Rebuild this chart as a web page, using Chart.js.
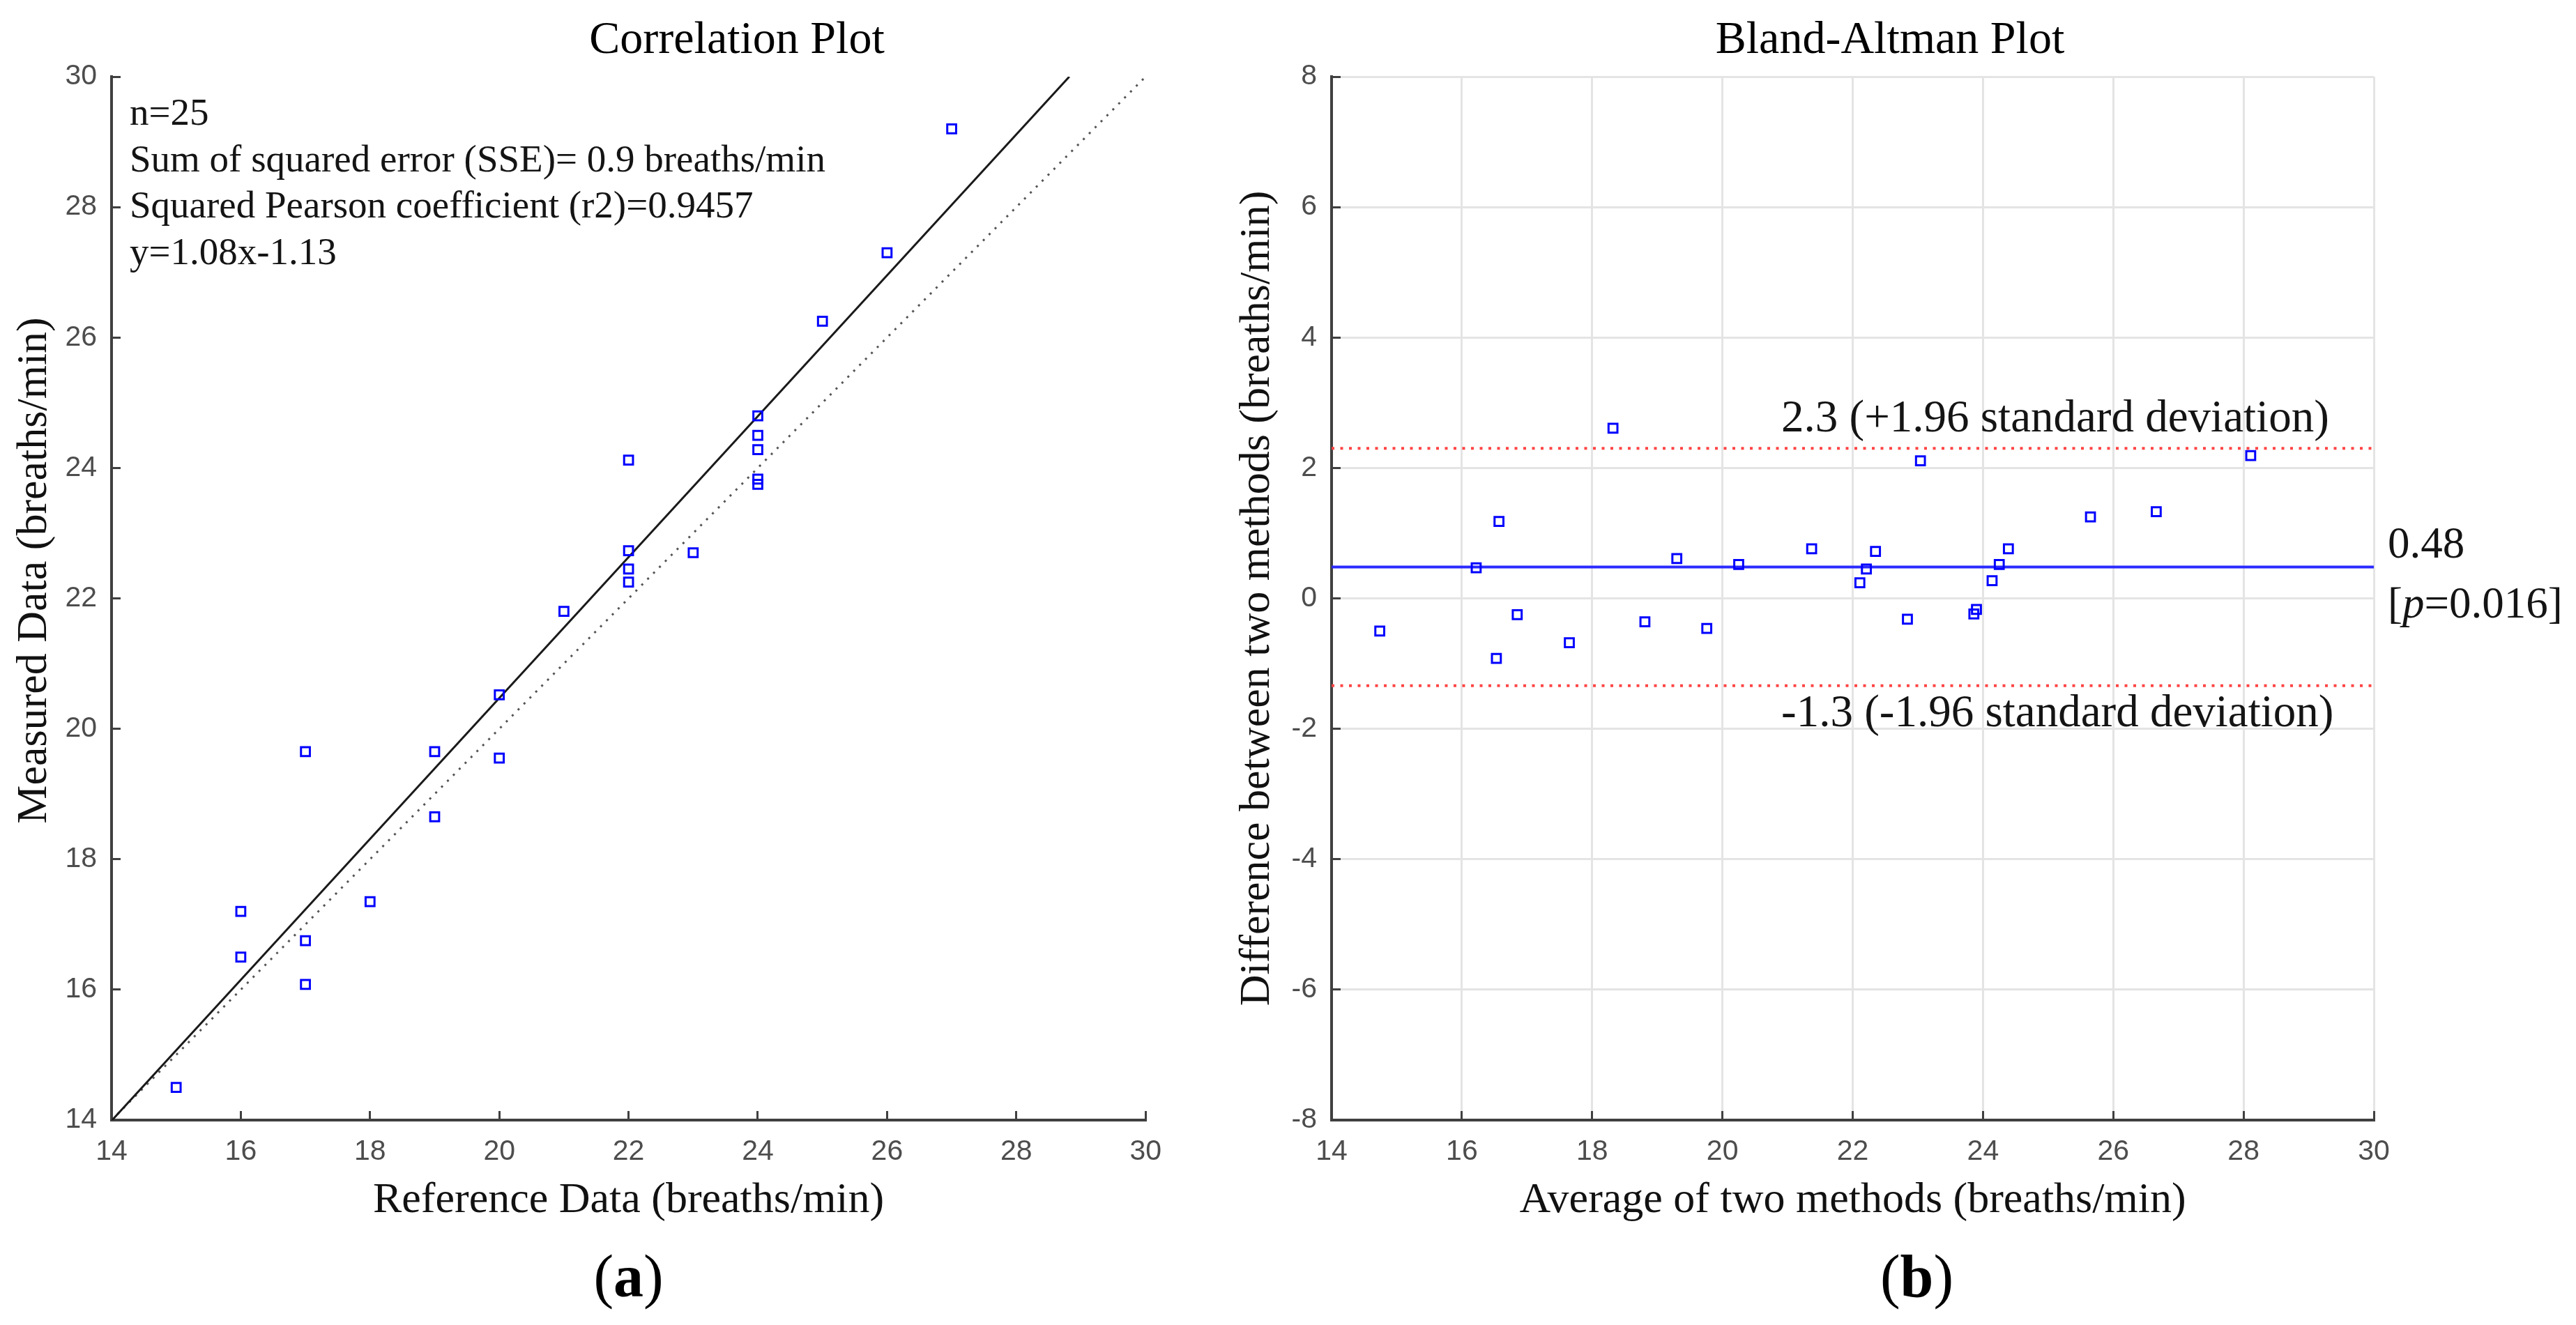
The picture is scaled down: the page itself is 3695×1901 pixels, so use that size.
<!DOCTYPE html>
<html><head><meta charset="utf-8">
<script src="https://cdn.jsdelivr.net/npm/chart.js@4.4.1/dist/chart.umd.min.js"></script>
<style>
html,body{margin:0;padding:0;background:#fff;width:3695px;height:1901px;overflow:hidden;}
canvas{position:absolute;top:0;}
#c1{left:0;} #c2{left:1700px;}
</style></head><body>
<canvas id="c1" width="1700" height="1901"></canvas>
<canvas id="c2" width="1995" height="1901"></canvas>
<script>
// ---------- data ----------
const refData  = [15, 16, 16, 17, 17, 17, 18, 19, 19, 20, 20, 21, 22, 22, 22, 22, 23, 24, 24, 24, 24, 24, 25, 26, 27];
const measData = [14.5, 17.2, 16.5, 19.65, 16.75, 16.08, 17.35, 19.65, 18.65, 20.52, 19.55, 21.8, 24.12, 22.73, 22.45, 22.25, 22.7, 24.8, 24.5, 24.28, 23.83, 23.75, 26.25, 27.3, 29.2];
const fitLineX = [14, 28.82];
const fitLineY = [13.99, 30];
const identityX = [14, 30];
const identityY = [14, 30];

const avgData  = [14.74, 16.22, 16.57, 16.53, 16.85, 17.65, 18.32, 18.81, 19.30, 19.76, 20.25, 21.37, 22.11, 22.21, 22.35, 22.84, 23.04, 23.86, 23.90, 24.14, 24.25, 24.39, 25.65, 26.66, 28.11];
const diffData = [-0.50, 0.47, 1.18, -0.92, -0.25, -0.68, 2.61, -0.36, 0.61, -0.46, 0.52, 0.76, 0.24, 0.45, 0.72, -0.32, 2.11, -0.24, -0.17, 0.27, 0.52, 0.76, 1.25, 1.33, 2.19];
const meanDiff = 0.48;
const upperLoA = 2.3;
const lowerLoA = -1.34;
const baRangeX = [14, 30];

const corrTicks = [14, 16, 18, 20, 22, 24, 26, 28, 30];
const baTicksX  = [14, 16, 18, 20, 22, 24, 26, 28, 30];
const baTicksY  = [-8, -6, -4, -2, 0, 2, 4, 6, 8];

const corrTitle = 'Correlation Plot';
const baTitle = 'Bland-Altman Plot';
const corrYTitle = 'Measured Data (breaths/min)';
const corrNotes = ['n=25', 'Sum of squared error (SSE)= 0.9 breaths/min', 'Squared Pearson coefficient (r2)=0.9457', 'y=1.08x-1.13'];
const upperLabel = '2.3 (+1.96 standard deviation)';
const lowerLabel = '-1.3 (-1.96 standard deviation)';
const meanLabel = '0.48';
const pLabel = ['[', 'p', '=0.016]'];

// ---------- helpers ----------
const SERIF = '"Liberation Serif", "Times New Roman", serif';
const SANS = '"Liberation Sans", Arial, sans-serif';
const pts = (xs, ys) => xs.map((x, i) => ({x: x, y: ys[i]}));
function f(size, w) { return (w || '') + ' ' + size + 'px ' + SERIF; }
function panelLabel(ctx, letter, cx, base) {
  const parts = [['(', f(86)], [letter, f(86, 'bold')], [')', f(86)]];
  let total = 0;
  parts.forEach(p => { ctx.font = p[1]; total += ctx.measureText(p[0]).width; });
  let x = cx - total / 2;
  ctx.textAlign = 'left';
  parts.forEach(p => { ctx.font = p[1]; ctx.fillText(p[0], x, base); x += ctx.measureText(p[0]).width; });
}
function linScale(ticks, titleText, titlePad, extra) {
  return Object.assign({
    type: 'linear',
    min: ticks[0], max: ticks[ticks.length - 1],
    ticks: {stepSize: ticks[1] - ticks[0], font: {family: SANS, size: 41}, color: '#4d4d4d', padding: 34},
    border: {display: true, color: '#404040', width: 4},
    title: {display: !!titleText, text: titleText, font: {family: SERIF, size: 62}, color: '#111', padding: titlePad}
  }, extra);
}

// ---------- correlation chart ----------
const corrText = {
  id: 'corrText',
  afterDraw(chart) {
    const {ctx, chartArea: a} = chart;
    ctx.save();
    ctx.fillStyle = '#000';
    ctx.textBaseline = 'alphabetic';
    ctx.font = f(66); ctx.textAlign = 'center';
    ctx.fillText(corrTitle, a.left + 897, 76);
    ctx.fillStyle = '#141414';
    ctx.font = f(55); ctx.textAlign = 'left';
    corrNotes.forEach((t, i) => ctx.fillText(t, a.left + 26, a.top + 69 + i * 66.5));
    // y-axis title (placed slightly above the plot centre, as in the source)
    ctx.save();
    ctx.fillStyle = '#111';
    ctx.translate(a.left - 110, (a.top + a.bottom) / 2 - 40);
    ctx.rotate(-Math.PI / 2);
    ctx.font = f(62); ctx.textAlign = 'center'; ctx.textBaseline = 'middle';
    ctx.fillText(corrYTitle, 0, 0);
    ctx.restore();
    ctx.fillStyle = '#000';
    ctx.textBaseline = 'alphabetic';
    panelLabel(ctx, 'a', (a.left + a.right) / 2, 1860);
    ctx.restore();
  }
};

new Chart(document.getElementById('c1'), {
  type: 'scatter',
  data: {
    datasets: [
      {label: 'Measured', data: pts(refData, measData), pointStyle: 'rect', pointRadius: 9, pointBorderWidth: 3,
       borderColor: '#0000ff', backgroundColor: 'rgba(0,0,0,0)'},
      {label: 'Fit', type: 'line', data: pts(fitLineX, fitLineY), borderColor: '#1a1a1a', borderWidth: 3, pointRadius: 0, fill: false},
      {label: 'Identity', type: 'line', data: pts(identityX, identityY), borderColor: '#555', borderWidth: 3, borderDash: [3, 9], pointRadius: 0, fill: false}
    ]
  },
  options: {
    responsive: false, animation: false, devicePixelRatio: 1,
    layout: {padding: {left: 0, right: 45, top: 110, bottom: 94}, autoPadding: false},
    plugins: {legend: {display: false}, tooltip: {enabled: false}, title: {display: false}},
    scales: {
      x: linScale(corrTicks, 'Reference Data (breaths/min)', {top: 0, bottom: 47}, {
        position: 'bottom',
        grid: {drawOnChartArea: false, tickLength: -13, tickColor: '#404040', tickWidth: 3},
        afterFit: s => { s.height = 200; }
      }),
      y: linScale(corrTicks, '', {top: 13, bottom: 0}, {
        position: 'left',
        grid: {drawOnChartArea: false, tickLength: -13, tickColor: '#404040', tickWidth: 3},
        afterFit: s => { s.width = 160; }
      })
    }
  },
  plugins: [corrText]
});

// ---------- Bland-Altman chart ----------
const baText = {
  id: 'baText',
  afterDraw(chart) {
    const {ctx, chartArea: a, scales} = chart;
    const y = scales.y;
    ctx.save();
    ctx.fillStyle = '#000';
    ctx.textBaseline = 'alphabetic';
    ctx.font = f(66); ctx.textAlign = 'center';
    ctx.fillText(baTitle, a.left + 801, 76);
    ctx.fillStyle = '#141414';
    ctx.font = f(65); ctx.textAlign = 'left';
    ctx.fillText(upperLabel, a.left + 645, y.getPixelForValue(upperLoA) - 24);
    ctx.fillText(lowerLabel, a.left + 645, y.getPixelForValue(lowerLoA) + 58);
    const mx = a.right + 20;
    const my = y.getPixelForValue(meanDiff);
    ctx.font = f(63);
    ctx.fillText(meanLabel, mx, my - 14);
    let x = mx;
    ctx.font = f(63); ctx.fillText(pLabel[0], x, my + 72); x += ctx.measureText(pLabel[0]).width;
    ctx.font = f(63, 'italic'); ctx.fillText(pLabel[1], x, my + 72); x += ctx.measureText(pLabel[1]).width;
    ctx.font = f(63); ctx.fillText(pLabel[2], x, my + 72);
    ctx.fillStyle = '#000';
    panelLabel(ctx, 'b', (a.left + a.right) / 2 + 92, 1860);
    ctx.restore();
  }
};

new Chart(document.getElementById('c2'), {
  type: 'scatter',
  data: {
    datasets: [
      {label: 'Difference', data: pts(avgData, diffData), pointStyle: 'rect', pointRadius: 9, pointBorderWidth: 3,
       borderColor: '#0000ff', backgroundColor: 'rgba(0,0,0,0)'},
      {label: 'Mean', type: 'line', data: pts(baRangeX, [meanDiff, meanDiff]), borderColor: '#2a2aff', borderWidth: 4, pointRadius: 0, fill: false},
      {label: 'Upper', type: 'line', data: pts(baRangeX, [upperLoA, upperLoA]), borderColor: '#ff4545', borderWidth: 4, borderDash: [4, 8.5], pointRadius: 0, fill: false},
      {label: 'Lower', type: 'line', data: pts(baRangeX, [lowerLoA, lowerLoA]), borderColor: '#ff4545', borderWidth: 4, borderDash: [4, 8.5], pointRadius: 0, fill: false}
    ]
  },
  options: {
    responsive: false, animation: false, devicePixelRatio: 1,
    layout: {padding: {left: 0, right: 290, top: 110, bottom: 94}, autoPadding: false},
    plugins: {legend: {display: false}, tooltip: {enabled: false}, title: {display: false}},
    scales: {
      x: linScale(baTicksX, 'Average of two methods (breaths/min)', {top: 0, bottom: 47}, {
        position: 'bottom',
        grid: {color: '#e4e4e4', lineWidth: 3, tickLength: -13, tickColor: '#404040', tickWidth: 3},
        afterFit: s => { s.height = 200; }
      }),
      y: linScale(baTicksY, 'Difference between two methods (breaths/min)', {top: 67, bottom: 0}, {
        position: 'left',
        grid: {color: '#e4e4e4', lineWidth: 3, tickLength: -13, tickColor: '#404040', tickWidth: 3},
        afterFit: s => { s.width = 210; }
      })
    }
  },
  plugins: [baText]
});
</script>
</body></html>
